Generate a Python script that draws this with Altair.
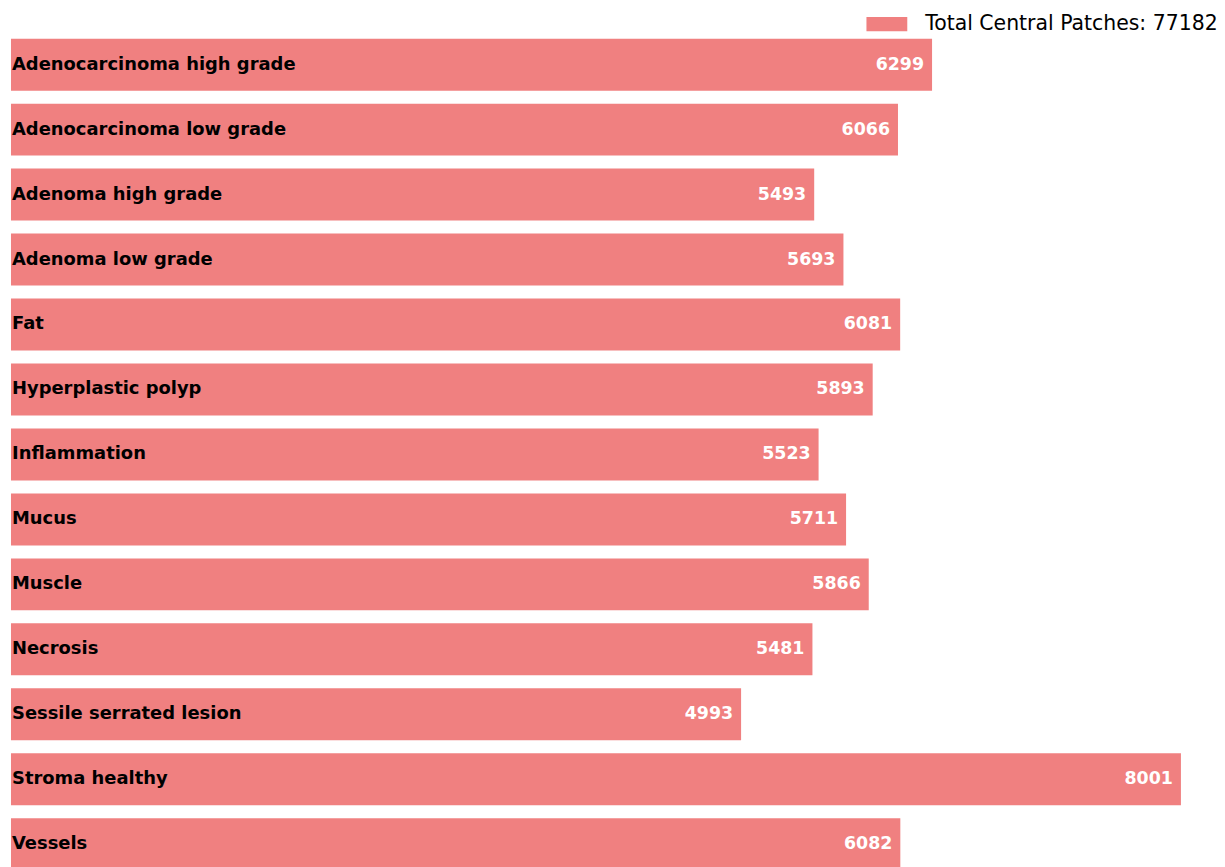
import altair as alt
import pandas as pd

categories = [
    "Adenocarcinoma high grade",
    "Adenocarcinoma low grade",
    "Adenoma high grade",
    "Adenoma low grade",
    "Fat",
    "Hyperplastic polyp",
    "Inflammation",
    "Mucus",
    "Muscle",
    "Necrosis",
    "Sessile serrated lesion",
    "Stroma healthy",
    "Vessels",
]
values = [6299, 6066, 5493, 5693, 6081, 5893, 5523, 5711, 5866, 5481, 4993, 8001, 6082]
total = sum(values)
series_name = f"Total Central Patches: {total}"

df = pd.DataFrame({
    "category": categories,
    "count": values,
    "start": [0] * len(values),
    "series": [series_name] * len(values),
})

BAR = "#F08080"
FONT = "DejaVu Sans"

xscale = alt.Scale(domain=[0, 8200], nice=False, zero=True)
x = alt.X("count:Q", axis=None, scale=xscale)
y = alt.Y("category:N", axis=None, sort=categories,
          scale=alt.Scale(paddingInner=0.2, paddingOuter=0))

bars = alt.Chart(df).mark_bar().encode(
    x=x,
    y=y,
    color=alt.Color(
        "series:N",
        scale=alt.Scale(range=[BAR]),
        legend=alt.Legend(
            title=None,
            orient="none",
            legendX=859,
            legendY=-35,
            padding=0,
            symbolType="M-1,-0.35L1,-0.35L1,0.35L-1,0.35Z",
            symbolSize=1681,
            symbolStrokeWidth=0,
            symbolOpacity=1,
            labelFont=FONT,
            labelFontSize=20.5,
            labelColor="black",
            labelOffset=18,
            labelLimit=400,
        ),
    ),
)

names = alt.Chart(df).mark_text(
    align="left", baseline="middle", dx=1, font=FONT, fontSize=18, fontWeight="bold", color="black"
).encode(x=alt.X("start:Q", axis=None, scale=xscale), y=y, text="category:N")

nums = alt.Chart(df).mark_text(
    align="right", baseline="middle", dx=-8, font=FONT, fontSize=17.5, fontWeight="bold", color="white"
).encode(x=x, y=y, text="count:Q")

chart = (
    alt.layer(bars, names, nums)
    .properties(
        width=1204,
        height=835,
        background="white",
        autosize=alt.AutoSizeParams(type="none"),
        padding={"left": 3, "top": 29, "right": 7, "bottom": 0},
    )
    .configure_view(stroke=None)
)

chart.save("out.html", embed_options={"renderer": "svg", "actions": False})
